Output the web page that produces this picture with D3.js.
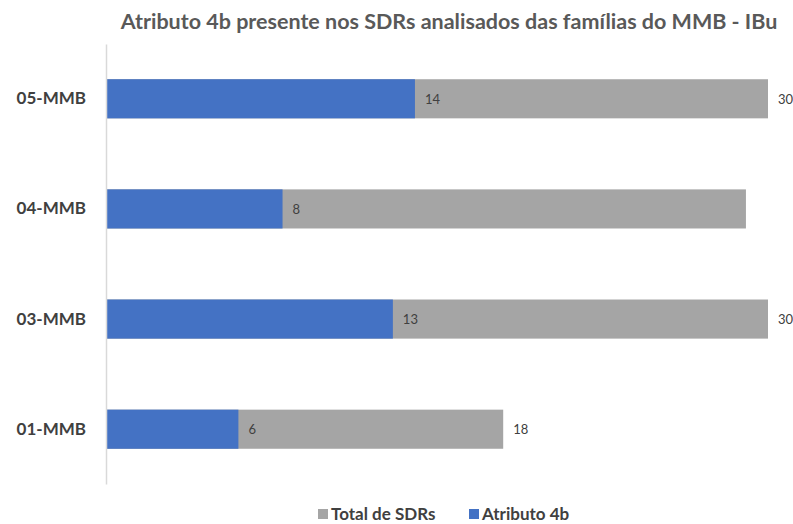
<!DOCTYPE html>
<html>
<head>
<meta charset="utf-8">
<script src="https://cdn.jsdelivr.net/npm/d3@7"></script>
<style>
  body { margin: 0; background: #fff; }
  svg { font-family: Lato, "Open Sans", sans-serif; }
</style>
</head>
<body>
<div id="chart"></div>
<script>
// data, top to bottom
var categories = ["05-MMB", "04-MMB", "03-MMB", "01-MMB"];
var totalSDRs = [30, 29, 30, 18];
var atributo4b = [14, 8, 13, 6];
// 04-MMB shows no total label in the original
var totalLabels = ["30", "", "30", "18"];
var seriesNames = ["Total de SDRs", "Atributo 4b"];

var width = 793, height = 524;
var plotLeft = 106, plotRight = 768, plotTop = 44, plotBottom = 484;

var svg = d3.select("#chart").append("svg")
    .attr("width", width)
    .attr("height", height);

var x = d3.scaleLinear().domain([0, 30]).range([plotLeft, plotRight]);
var y = d3.scaleBand().domain(categories).range([plotTop, plotBottom]).paddingInner(0.645).paddingOuter(0.32);

var color = { total: "#a5a5a5", attr: "#4472c4" };

// title
svg.append("text")
    .attr("x", 449)
    .attr("y", 29)
    .attr("text-anchor", "middle")
    .attr("font-size", 21.5)
    .attr("font-weight", "bold")
    .attr("fill", "#595959")
    .text("Atributo 4b presente nos SDRs analisados das famílias do MMB - IBu");

// total bars (behind)
svg.selectAll("rect.total")
    .data(categories)
    .enter().append("rect")
    .attr("class", "total")
    .attr("x", x(0))
    .attr("y", function (d) { return y(d); })
    .attr("width", function (d, i) { return x(totalSDRs[i]) - x(0); })
    .attr("height", y.bandwidth())
    .attr("fill", color.total);

// attribute bars (front)
svg.selectAll("rect.attr")
    .data(categories)
    .enter().append("rect")
    .attr("class", "attr")
    .attr("x", x(0))
    .attr("y", function (d) { return y(d); })
    .attr("width", function (d, i) { return x(atributo4b[i]) - x(0); })
    .attr("height", y.bandwidth())
    .attr("fill", color.attr);

// value labels
svg.selectAll("text.attrLabel")
    .data(categories)
    .enter().append("text")
    .attr("class", "attrLabel")
    .attr("x", function (d, i) { return x(atributo4b[i]) + 10; })
    .attr("y", function (d) { return y(d) + y.bandwidth() / 2 + 5; })
    .attr("font-size", 13)
    .attr("fill", "#404040")
    .text(function (d, i) { return atributo4b[i]; });

svg.selectAll("text.totalLabel")
    .data(categories)
    .enter().append("text")
    .attr("class", "totalLabel")
    .attr("x", function (d, i) { return x(totalSDRs[i]) + 10; })
    .attr("y", function (d) { return y(d) + y.bandwidth() / 2 + 5; })
    .attr("font-size", 13)
    .attr("fill", "#404040")
    .text(function (d, i) { return totalLabels[i]; });

// y axis
var yAxis = svg.append("g")
    .attr("transform", "translate(" + plotLeft + ",0)")
    .call(d3.axisLeft(y).tickSize(0).tickPadding(20));
yAxis.select(".domain").attr("stroke", "#d9d9d9").attr("stroke-width", 1.5);
yAxis.selectAll("text")
    .attr("font-size", 17)
    .attr("font-weight", "bold")
    .attr("fill", "#404040")
    .attr("font-family", "Lato, 'Open Sans', sans-serif");

// legend
var legendItems = [
    { name: seriesNames[0], fill: color.total, x: 318 },
    { name: seriesNames[1], fill: color.attr, x: 469 }
];
var legend = svg.selectAll("g.legend")
    .data(legendItems)
    .enter().append("g")
    .attr("class", "legend")
    .attr("transform", function (d) { return "translate(" + d.x + ",514)"; });
legend.append("rect")
    .attr("x", 0).attr("y", -5)
    .attr("width", 10).attr("height", 10)
    .attr("fill", function (d) { return d.fill; });
legend.append("text")
    .attr("x", 13).attr("y", 5.5)
    .attr("font-size", 17)
    .attr("font-weight", "bold")
    .attr("fill", "#404040")
    .text(function (d) { return d.name; });
</script>
</body>
</html>
